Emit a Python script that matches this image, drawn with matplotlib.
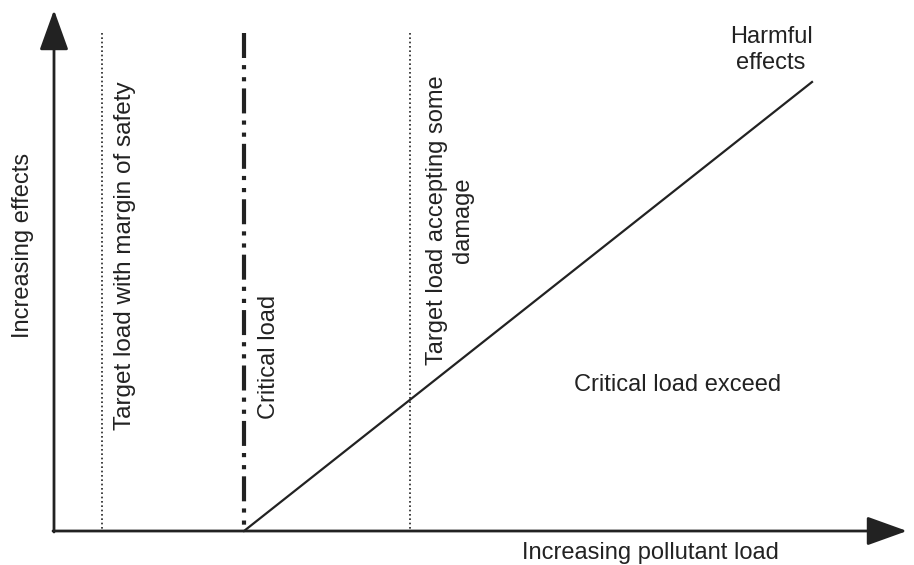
import matplotlib.pyplot as plt

plt.rcParams['font.family'] = ['Liberation Sans', 'DejaVu Sans']

# schematic positions (pixel-like units, y grows downward)
origin = (54, 531)
x_arrow_tip = 907
y_arrow_tip = 10
line_top = 33

margin_x = 102
critical_x = 244
damage_x = 410

# harmful effects line
effect_x = [244, 812]
effect_y = [531, 82]

ink = '#222222'

fig = plt.figure(figsize=(9.14, 5.65), dpi=100)
ax = fig.add_axes([0, 0, 1, 1])
ax.set_xlim(0, 914)
ax.set_ylim(565, 0)
ax.axis('off')

# axes with arrows
ax.annotate('', xy=(x_arrow_tip, origin[1]), xytext=(origin[0] - 1, origin[1]),
            arrowprops=dict(arrowstyle='-|>,head_length=1.25,head_width=0.45',
                            mutation_scale=20, lw=2, color=ink, shrinkA=0, shrinkB=0))
ax.annotate('', xy=(origin[0], y_arrow_tip), xytext=(origin[0], origin[1] + 1),
            arrowprops=dict(arrowstyle='-|>,head_length=1.25,head_width=0.45',
                            mutation_scale=20, lw=2, color=ink, shrinkA=0, shrinkB=0))

# vertical load lines
ax.plot([margin_x, margin_x], [line_top, origin[1]], color=ink, lw=1.2,
        linestyle=(0, (1, 1.6)))
ax.plot([damage_x, damage_x], [line_top, origin[1]], color=ink, lw=1.2,
        linestyle=(0, (1, 1.6)))
ax.plot([critical_x, critical_x], [line_top, origin[1]], color=ink, lw=3,
        linestyle=(0, (6, 1.7, 1, 1.9, 1, 1.7)), dash_capstyle='butt')

ax.plot(effect_x, effect_y, color=ink, lw=1.6)

fs = 17
ax.text(125, 256, 'Target load with margin of safety', rotation=90,
        ha='center', va='center', fontsize=17.5, color=ink)
ax.text(269, 357, 'Critical load', rotation=90,
        ha='center', va='center', fontsize=fs, color=ink)
ax.text(450, 220, 'Target load accepting some\ndamage', rotation=90,
        ha='center', va='center', multialignment='center', fontsize=fs,
        color=ink, linespacing=1.2)
ax.text(771, 50, 'Harmful\neffects', ha='center', va='center', fontsize=fs,
        color=ink, linespacing=1.2)
ax.text(678, 385, 'Critical load exceed', ha='center', va='center',
        fontsize=fs, color=ink)
ax.text(23, 245, 'Increasing effects', rotation=90, ha='center', va='center',
        fontsize=fs, color=ink)
ax.text(650, 553, 'Increasing pollutant load', ha='center', va='center',
        fontsize=fs, color=ink)

fig.savefig('out.png', dpi=100)
